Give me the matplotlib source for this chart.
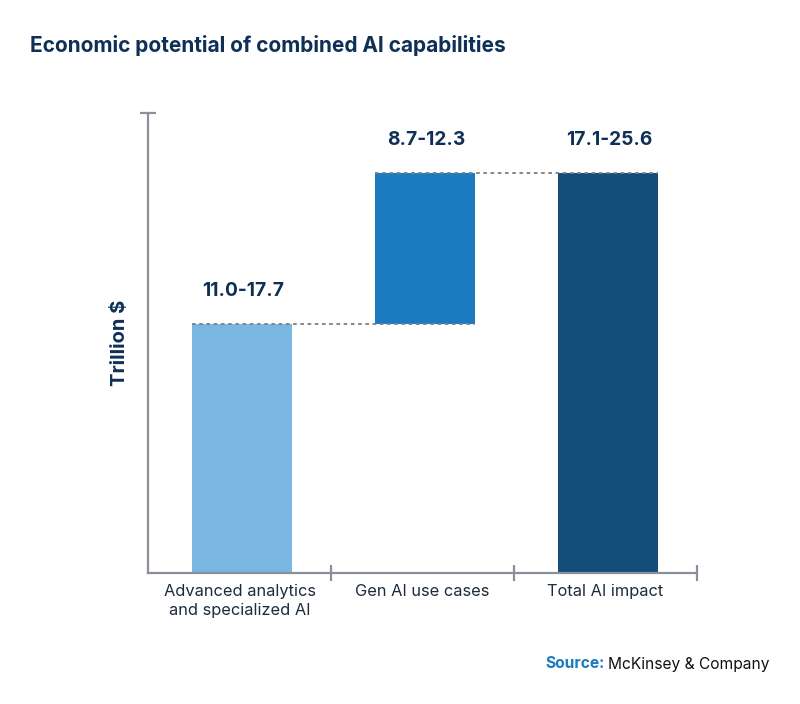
import matplotlib
matplotlib.use("Agg")
import matplotlib.pyplot as plt

categories = ["Advanced analytics\nand specialized AI", "Gen AI use cases", "Total AI impact"]
range_labels = ["11.0-17.7", "8.7-12.3", "17.1-25.6"]
# bar heights (arbitrary units, axis has no scale)
base_value = 14.35
gen_ai_value = 8.7
total_value = base_value + gen_ai_value
y_max = 26.5

colors = ["#7AB7E2", "#1A7BC0", "#134E7A"]
navy = "#0E2F56"
axis_grey = "#8A9099"

plt.rcParams["font.family"] = ["Inter", "DejaVu Sans"]

fig = plt.figure(figsize=(8, 7.04), dpi=100)
ax = fig.add_axes([0.185, 0.1861, 0.68625, 0.6534])

bottoms = [0, base_value, 0]
heights = [base_value, gen_ai_value, total_value]
xs = [0, 1, 2]
width = 0.546
ax.bar([x + 0.015 for x in xs], heights, bottom=bottoms, width=width,
       color=colors, zorder=2)

# dotted connectors between bars
ax.plot([0.015 - width / 2, 1.015 + width / 2], [base_value, base_value],
        ls=(0, (2, 2)), color="#7A7F86", lw=1.3, zorder=3)
ax.plot([1.015 - width / 2, 2.015 + width / 2], [total_value, total_value],
        ls=(0, (2, 2)), color="#7A7F86", lw=1.3, zorder=3)

tops = [b + h for b, h in zip(bottoms, heights)]
for x, top, lab in zip(xs, tops, range_labels):
    ax.text(x + 0.02, top + 1.35, lab, ha="center", va="bottom",
            fontsize=13.8, fontweight="bold", color=navy)

ax.set_xlim(-0.5, 2.5)
ax.set_ylim(0, y_max)

for side in ["top", "right"]:
    ax.spines[side].set_visible(False)
for side in ["left", "bottom"]:
    ax.spines[side].set_color(axis_grey)
    ax.spines[side].set_linewidth(1.6)

ax.set_xticks(xs)
ax.set_xticklabels(categories, fontsize=11.8, color="#1C2B3D", linespacing=1.35)
ax.tick_params(axis="x", which="major", length=0, pad=8)
ax.set_xticks([0.5, 1.5, 2.5], minor=True)
ax.tick_params(axis="x", which="minor", direction="inout", length=11,
               width=1.6, color=axis_grey)
ax.set_yticks([y_max])
ax.set_yticklabels([""])
ax.tick_params(axis="y", direction="inout", length=12, width=1.6, color=axis_grey)

ax.set_ylabel("Trillion $", fontsize=14.5, fontweight="bold", color=navy, labelpad=4)

fig.text(30 / 800, 1 - 45 / 704, "Economic potential of combined AI capabilities",
         fontsize=15, fontweight="bold", color=navy, va="center", ha="left")

src = fig.text(770 / 800, 1 - 664 / 704, "McKinsey & Company", fontsize=11.2,
               color="#111111", ha="right", va="center")
fig.canvas.draw()
bb = src.get_window_extent()
fig.text(bb.x0 / 800 - 0.005, 1 - 664 / 704, "Source:", fontsize=11.2,
         fontweight="bold", color="#1A7BC0", ha="right", va="center")

fig.savefig("out.png", dpi=100)
